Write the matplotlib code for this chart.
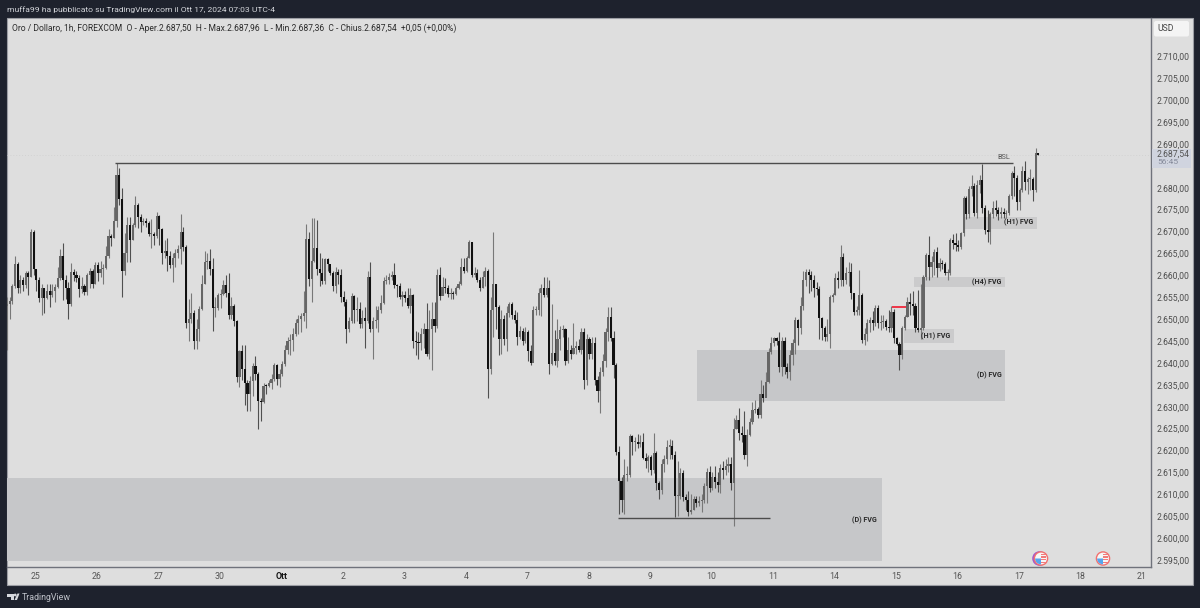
import matplotlib
matplotlib.use("Agg")
import matplotlib.pyplot as plt
from matplotlib.patches import Rectangle, Circle, Polygon, FancyBboxPatch, Wedge

plt.rcParams['font.family'] = ['Roboto', 'DejaVu Sans']

closes = [
2653.4,2654.2,2657.5,2662.5,2657,2659,2657.7,2660.5,2659.7,2670,
2661.4,2659,2654.8,2657,2654.8,2656.5,2655.5,2656.5,2657.3,2659.3,
2664.5,2659,2657,2653.5,2660.7,2660,2659.4,2656.8,2657.5,2656.3,
2660,2661,2658,2662.3,2660.6,2661.4,2661.6,2664.5,2669,2668.5,
2672.5,2683,2677.5,2661,2665,2671.5,2668,2671.5,2676,2673.4,
2672.2,2672.5,2672,2669.5,2669.5,2669,2673.5,2670.5,2665,2665.5,
2664.5,2662.4,2664,2665,2666,2670,2666.5,2649.2,2650,2651.5,
2645,2647.7,2652.3,2658,2663,2663.2,2661.5,2652.5,2652.6,2655.5,
2655.8,2657.8,2656,2651,2653,2649.6,2636.7,2642.8,2638.6,2635.5,
2633,2635.9,2639.2,2637.5,2631.3,2631,2634.8,2634.7,2635.5,2636.3,
2639.5,2636.3,2637.4,2639.7,2643,2645,2645.2,2646.6,2649,2650,
2650.7,2651.4,2668.3,2659.2,2663.3,2666.3,2661.5,2660.5,2658.8,2663.7,
2662.5,2660.5,2657.5,2660.7,2660,2655,2654,2647.7,2649.6,2655.3,
2652,2652.4,2648.8,2650.3,2649.5,2659.5,2647.7,2649.5,2649.7,2652,
2653.7,2658.7,2659,2659.7,2660,2657.7,2657.5,2655,2655.5,2654.8,
2653,2655.5,2645,2644.8,2644.6,2646.5,2647.7,2642,2647.7,2650,
2648.5,2660,2655.3,2657.3,2657,2655.7,2656,2655.8,2657,2658.1,
2662,2661,2664,2667.5,2660,2660.5,2659,2657,2659.7,2661,
2638.7,2652,2658,2652.8,2645.4,2650,2645.4,2651.5,2653.5,2651,
2649.8,2645.8,2647.3,2645,2647,2642.8,2640,2652,2652,
2656,2657,2655.5,2657,2639.7,2642.3,2640.5,2645.5,2647.5,2647.7,
2640.5,2643,2642,2643.4,2643.8,2643,2647,2636,2645.5,2642,
2644.6,2636,2633.6,2638,2640.5,2647,2650.5,2645.7,2639.5,2619.7,
2613,2608.7,2614.4,2614.5,2623.2,2622,2622,2621.5,2622,2618.4,
2617.5,2618.5,2615.6,2619.5,2612.5,2611,2617,2618,2620.9,2621,
2619,2609.5,2609.5,2614.8,2609.3,2608.6,2606,2606.5,2609,2608,
2608.5,2608.8,2612,2615.2,2611.4,2614,2612.8,2612.2,2616,2615.5,
2616.5,2617,2612.6,2625,2627,2624,2623.5,2619,2623.5,2626.6,
2629.3,2629.5,2628,2633,2632,2635.7,2642.6,2644.5,2645.6,2645,
2639,2645,2639,2638,2641.8,2644.5,2649.8,2648,2653,2659,
2660.8,2660,2659,2657,2656.8,2650.2,2648,2646,2646.5,
2655.1,2655.5,2659.3,2659,2664.2,2659,2660.5,2660.8,2656,2651.7,
2652,2655.5,2645.2,2646.5,2649,2649.8,2649.2,2652.5,2649,2649.4,
2649.5,2648.3,2648,2651.7,2645.6,2644.4,2641.8,2647.9,2650.5,2654,
2653.5,2653,2648,2647.5,2648,2659.7,2664.7,2662,2663,2665.4,
2661.6,2662.7,2662.5,2660.5,2660.5,2668,2667.3,2667,2666.5,2669.6,
2677.6,2674,2679.8,2680.3,2674.2,2680.7,2681.8,2675.3,2670.3,2670,
2674,2675.3,2675,2674,2674.5,2674,2674.2,2678,2683.3,2682.2,
2676.8,2679.5,2683.7,2681.4,2682,2682,2679.5,2688,2687.54]

highs = [
2655,2655,2658,2664.5,2663,2660,2659.5,2661,2661,2670.5,
2670.3,2661.5,2659.5,2658,2657.2,2658,2658,2658,2658,2662,
2666,2667.3,2660,2658.5,2662.8,2661.5,2661,2660,2659.5,2658,
2660.5,2661.6,2661.5,2663,2663,2663.2,2662.5,2666.7,2670.5,2669.5,
2675.5,2685.6,2684.5,2680,2669.7,2673.3,2673.3,2672,2678,2676.5,
2674,2673,2673,2672.5,2672.8,2670,2674.5,2673.8,2670.8,2668,
2668.5,2665.5,2665,2666,2667,2674,2671,2667,2654.5,2656,
2652,2650,2653,2660,2665.5,2665,2666,2664,2655,2656,
2656.8,2659,2660,2660.5,2655,2653.5,2649.8,2643,2644,2644,
2636,2637,2640,2641.5,2638,2632,2635.5,2635.2,2636.2,2637.5,
2640,2639.8,2638.5,2640.5,2644,2646,2646.5,2648,2650,2651,
2651.5,2656.5,2671.7,2670,2673,2673,2672.7,2665,2664,2664,
2664,2662,2661,2662,2661.5,2661.5,2656.5,2654.5,2650.5,2656,
2655.5,2655,2654,2652,2652.7,2661,2663,2650.5,2653,2653,
2655.5,2659.5,2660,2660.5,2661,2662.8,2658,2658.3,2656.5,2656.5,
2657,2657.2,2655.8,2647.3,2647,2648,2649,2653.7,2652,2654,
2654,2661.5,2662,2659.5,2659.3,2657.8,2657,2656.5,2657.5,2658.7,
2664,2664,2664.5,2668,2667.7,2662,2661.5,2659.5,2661,2662,
2661.5,2655,2670,2658,2653.3,2652,2651,2653,2654,2654,
2652,2651.7,2648.5,2648,2648.3,2647.5,2644,2653,2653,
2657,2658,2659.5,2659.5,2659,2653.5,2647.5,2650,2648.5,2648.7,
2648,2646,2644,2649,2645,2645.5,2648,2648,2646.5,2646,
2646,2646,2637,2639,2642,2648,2652.7,2652.7,2647.2,2640,
2621,2614,2618,2616.5,2623.8,2623.5,2623,2623.7,2623.5,2624,
2619.5,2619,2619,2624,2620,2613,2618,2619,2622.5,2622.7,
2622.5,2620,2617.5,2616,2615.5,2610,2610.7,2610,2609.5,2609.5,
2609.5,2610,2612.5,2616,2616.5,2615,2616.5,2615,2617,2617.5,
2618,2618.5,2618.5,2627.5,2628,2629.7,2625.5,2629,2625,2627.5,
2631,2631.5,2630,2636,2635,2638,2643.5,2646,2646,2646,
2647,2646,2646,2640,2643,2645.5,2650.5,2650,2655,2661,
2661.5,2661.5,2661,2660,2658.5,2657.5,2650.5,2648.5,2650,
2655.5,2656,2660.5,2661,2666.9,2665,2662,2663,2662.7,2656,
2653,2661.3,2656,2648,2650,2650.5,2651.8,2653.2,2653.2,2651,
2651,2650,2652,2653,2652.3,2646,2644.7,2648.5,2651,2655,
2656,2656.5,2653.6,2656.7,2658,2660,2665.2,2669,2664.5,2666,
2666.5,2664,2663.5,2663,2661.5,2668.5,2669.5,2669.7,2668,2670,
2678,2678,2680.5,2683,2681,2681.7,2683,2685.5,2676,2675,
2674.5,2677,2677.3,2675.5,2675.5,2675.3,2675,2678.5,2683.7,2685,
2683,2680,2685,2686,2682.5,2684.3,2682.5,2689,2687.96]

lows = [
2643,2650,2653.5,2657,2656,2656,2656.5,2657,2655.5,2659.5,
2660,2656.5,2654,2651,2651.5,2654.5,2652.7,2655,2653.8,2657,
2659,2654.4,2654.5,2650,2653,2658.7,2658.5,2655,2656,2655.5,
2655.5,2657,2657,2658,2658.7,2659.5,2658,2661.5,2664,2666.7,
2668.5,2671,2676,2655,2660,2663,2663,2668,2671,2670.7,
2670,2671.5,2671,2669,2666.2,2667,2668.5,2667,2662.5,2664,
2661,2661.7,2658.5,2662,2664,2662.5,2665.5,2648,2645,2649,
2643.2,2643.2,2645,2652,2658,2661.5,2660,2647.3,2650.5,2652,
2652.5,2655.5,2655,2650,2650,2648.5,2635.7,2634.5,2636,2630.5,
2629,2629,2632.5,2636,2624.8,2626.8,2630.8,2633,2634.5,2634,
2635.8,2635,2634.5,2637,2639.2,2642,2641.8,2642.7,2646.2,2646.5,
2647,2649.5,2648,2657.5,2654,2663,2660,2657.5,2658,2658,
2661,2660,2656.5,2656,2658,2654,2653,2644.5,2647,2649,
2649,2649.5,2648,2648,2643.5,2649,2647,2641,2648,2647,
2651.5,2653.5,2658,2658,2659,2657,2655,2654.7,2653,2654,
2652.5,2651.5,2643.5,2641.8,2641,2643,2643.5,2641.5,2641,2638.3,
2647,2648,2654.3,2655.5,2656,2655,2654.5,2654.5,2655.5,2656.8,
2657.8,2660.5,2660.7,2664,2659.5,2659.5,2658.5,2656.5,2657,2657.5,
2632,2637.5,2646,2647.8,2641.7,2642,2644,2642.7,2650.5,2650,
2649,2644,2645.5,2644.2,2644.5,2640.5,2639.5,2642,2651,
2651,2650.7,2655,2655,2637.5,2639.5,2639.5,2639,2643,2646,
2639.5,2640,2641,2642,2642,2642.5,2642,2634,2635,2641,
2641,2635,2631,2628.5,2637,2639,2645,2645,2636.5,2619,
2605.5,2606,2605.5,2613,2614,2619,2620,2620.5,2620.7,2618,
2616,2615,2614.5,2614.8,2611,2609,2610,2615,2617,2618,
2618,2604.8,2605,2609,2608.5,2606.5,2605,2605.5,2606.5,2607,
2607.3,2606,2608,2608,2610.5,2611,2611.5,2610.5,2610.3,2613.5,
2614.5,2615,2611,2602.7,2625,2622.5,2622,2618,2616.5,2623.3,
2626,2628.5,2627.5,2627.5,2631,2632.5,2635.5,2642,2643.8,2644,
2638,2637,2637.5,2636.5,2636,2639.5,2642,2644,2646.5,2652,
2657.5,2656,2656.5,2655,2655.5,2645.5,2645.2,2645,2645,
2643.5,2654,2655.5,2657,2657.5,2657.5,2658,2657.5,2654.5,2651,
2651,2651,2644.5,2644,2645,2647,2647.5,2648.5,2648,2647.5,
2648,2647.5,2647,2647,2644.5,2644,2638.4,2641,2647.5,2650.5,
2651,2651,2647,2647,2645.5,2647.5,2659,2659,2659.5,2660,
2659.7,2661,2661.5,2660,2659,2660,2666,2665.5,2665.5,2666,
2669,2672.8,2673,2678,2673.5,2673,2678.8,2674.2,2669.5,2667.7,
2667.2,2673,2673.5,2672.7,2673,2673,2673,2673.8,2677.5,2678,
2674.8,2675,2679,2679.5,2678.5,2679.5,2677,2679,2687.36]

first_open = 2653.0
day_labels = ['25','26','27','30','Ott','2','3','4','7','8','9','10','11','14','15','16','17','18','21']
price_ticks = [2595,2600,2605,2610,2615,2620,2625,2630,2635,2640,2645,2650,2655,2660,2665,2670,2675,2680,2690,2695,2700,2705,2710]
last_price = 2687.54

# zones: start bar, end bar, low, high
zone_start = [0, 258.4, 335.6, 339.3, 358.0]
zone_end = [327.3, 373.4, 354.3, 373.4, 385.4]
zone_low = [2594.8, 2631.3, 2644.5, 2657.4, 2670.6]
zone_high = [2613.7, 2643.0, 2647.7, 2659.5, 2673.4]
zone_colors = ['#c6c7c9', '#c6c7c9', '#cbcbcc', '#cbcbcc', '#cbcbcc']

label_text = ['(D) FVG', '(D) FVG', '(H1) FVG', '(H4) FVG', '(H1) FVG']
label_bar = [321.0, 367.5, 347.7, 366.8, 378.7]
label_price = [2604.1, 2637.2, 2646.1, 2658.5, 2672.2]

W, H = 1200, 608
BG = '#1e222d'
PANEL = '#dedede'
PX_BAR = 2.672
PX_PRICE = 4.38

fig = plt.figure(figsize=(W/100, H/100), dpi=100, facecolor=BG)

bg = fig.add_axes([0, 0, 1, 1], zorder=0)
bg.set_xlim(0, W); bg.set_ylim(H, 0); bg.axis('off')
bg.add_patch(Rectangle((7, 18), 1186, 567, facecolor=PANEL, edgecolor='#9b9da3', lw=0.8))

ax = fig.add_axes([7/W, (H-566.7)/H, 1144/W, (566.7-18)/H], zorder=1)
ax.patch.set_alpha(0)
ax.set_xlim(0, 1144/PX_BAR)
ax.set_ylim(2595+(560-566.7)/PX_PRICE, 2595+(560-18)/PX_PRICE)
for s in ['top', 'left']:
    ax.spines[s].set_visible(False)
for s in ['right', 'bottom']:
    ax.spines[s].set_color('#6f727b')
    ax.spines[s].set_linewidth(1.0)

for a, b, lo, hi, col in zip(zone_start, zone_end, zone_low, zone_high, zone_colors):
    ax.add_patch(Rectangle((a, lo), b-a, hi-lo, facecolor=col, edgecolor='none', zorder=1))

n = len(closes)
xs = list(range(n))
opens = [first_open] + closes[:-1]
up = [c >= o for o, c in zip(opens, closes)]
UP_C, DN_C = '#666666', '#111111'

ax.vlines(xs, lows, highs, colors=['#787878' if u else '#505050' for u in up], lw=0.8, zorder=3)
bottoms = [min(o, c) for o, c in zip(opens, closes)]
heights = [max(abs(c-o), 0.25) for o, c in zip(opens, closes)]
ax.bar(xs, heights, bottom=bottoms, width=0.8, color=[UP_C if u else DN_C for u in up], linewidth=0, zorder=4)

ax.axhline(last_price, color='#d2d2d2', lw=0.7, ls=(0, (1, 2)), zorder=2)
ax.hlines(2685.6, 40.4, 376.4, color='#4c4c4c', lw=1.0, zorder=5)
ax.hlines(2604.6, 228.5, 285.4, color='#4c4c4c', lw=1.0, zorder=5)
ax.hlines(2652.8, 331.3, 336.3, color='#f0283c', lw=1.3, zorder=5)

for s, b, p in zip(label_text, label_bar, label_price):
    ax.text(b, p, s, fontsize=5.1, fontweight='bold', color='#2a2a2a', ha='center', va='center', zorder=6)
ax.text(373.1, 2687.0, 'BSL', fontsize=5.2, color='#555555', ha='center', va='center', zorder=6)

day_pos = [10.7 + 23*k for k in range(len(day_labels))]
ax.set_xticks(day_pos)
ax.set_xticklabels(day_labels, fontsize=6.3, color='#555555')
ax.get_xticklabels()[4].set_fontweight('bold')
ax.get_xticklabels()[4].set_color('#131313')
ax.tick_params(axis='x', length=0, pad=3.8)
ax.yaxis.tick_right()
ax.set_yticks(price_ticks)
ax.set_yticklabels([f'{p//1000}.{p%1000:03d},00' for p in price_ticks], fontsize=6.25, color='#4d4d4d', va='center_baseline')
ax.tick_params(axis='y', length=0, pad=4.2)

fg = fig.add_axes([0, 0, 1, 1], zorder=2)
fg.set_xlim(0, W); fg.set_ylim(H, 0); fg.axis('off')

fg.text(7, 10, 'muffa99 ha pubblicato su TradingView.com il Ott 17, 2024 07:03 UTC-4',
        fontsize=6.08, color='#d3d5da', va='center', ha='left')
fg.text(12, 28, 'Oro / Dollaro, 1h, FOREXCOM  O - Aper.2.687,50  H - Max.2.687,96  L - Min.2.687,36  C - Chius.2.687,54  +0,05 (+0,00%)',
        fontsize=6.13, color='#2a2a2a', va='center', ha='left')

# USD button and last-price tag
fg.add_patch(FancyBboxPatch((1154, 21), 35, 15.5, boxstyle='round,pad=0,rounding_size=2', facecolor='#f4f4f4', edgecolor='none'))
fg.text(1166, 28.8, 'USD', fontsize=6.2, color='#444444', ha='center', va='center')
fg.add_patch(Rectangle((1152, 149), 39, 19, facecolor='#d0d4df', edgecolor='none'))
fg.text(1157, 154, '2.687,54', fontsize=6.25, color='#555555', ha='left', va='center')
fg.text(1157, 162, '56:45', fontsize=6.1, color='#858a9a', ha='left', va='center')

# footer logo and name
fg.add_patch(Polygon([(7, 593.5), (13.5, 593.5), (13.5, 600), (10.5, 600), (10.5, 596.5), (7, 596.5)], facecolor='#d6d8dd', edgecolor='none'))
fg.add_patch(Circle((15.2, 595), 1.4, facecolor='#d6d8dd', edgecolor='none'))
fg.add_patch(Polygon([(14.5, 600), (17.5, 593.5), (19.5, 593.5), (17, 600)], facecolor='#d6d8dd', edgecolor='none'))
fg.text(22, 597.3, 'TradingView', fontsize=6.4, color='#bfc2c9', ha='left', va='center')

# calendar flags
for cx in (1041, 1103):
    if cx == 1041:
        fg.add_patch(Circle((cx-1.5, 558.5), 7.3, facecolor='#a45ac8', edgecolor='none'))
    fg.add_patch(Circle((cx, 558.5), 7.3, facecolor='#f2706f', edgecolor='none'))
    fg.add_patch(Circle((cx, 558.5), 5.9, facecolor='#f6f6f6', edgecolor='none'))
    for yy in (559.5, 562.5):
        fg.add_patch(Rectangle((cx-4.5, yy-0.6), 9, 1.2, facecolor='#f27b7b', edgecolor='none'))
    fg.add_patch(Rectangle((cx, 553.7), 4.5, 1.2, facecolor='#f27b7b', edgecolor='none'))
    fg.add_patch(Rectangle((cx, 556.4), 5.4, 1.2, facecolor='#f27b7b', edgecolor='none'))
    fg.add_patch(Wedge((cx, 558.5), 5.9, 90, 180, facecolor='#55a5ee', edgecolor='none'))

assert len(closes) == len(highs) == len(lows)
fig.savefig('out.png', dpi=100, facecolor=BG)
